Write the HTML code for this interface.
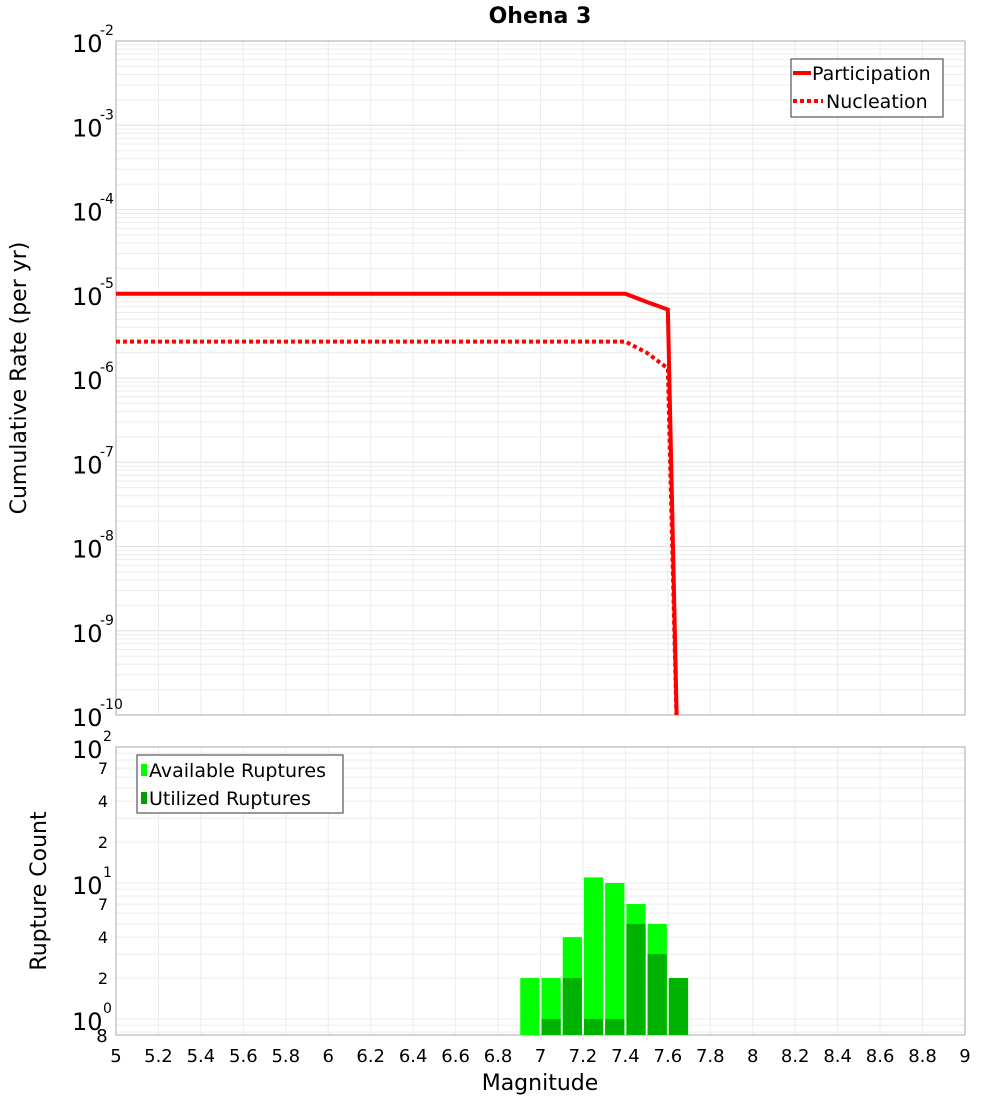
<!DOCTYPE html>
<html><head><meta charset="utf-8"><style>
body{margin:0;background:#fff;font-family:"Liberation Sans","DejaVu Sans",sans-serif}
svg text{font-family:"DejaVu Sans","Liberation Sans",sans-serif}
</style></head><body>
<svg id="c" width="1000" height="1100" xmlns="http://www.w3.org/2000/svg">
<text x="540" y="23" text-anchor="middle" font-size="22" font-weight="bold">Ohena 3</text>
<text transform="translate(26,378) rotate(-90)" text-anchor="middle" font-size="22">Cumulative Rate (per yr)</text>
<text transform="translate(46,891) rotate(-90)" text-anchor="middle" font-size="22">Rupture Count</text>
<text x="540" y="1090" text-anchor="middle" font-size="22">Magnitude</text>
<g id="g"></g>
</svg>
<script>
const mags=[5,5.1,5.2,5.3,5.4,5.5,5.6,5.7,5.8,5.9,6,6.1,6.2,6.3,6.4,6.5,6.6,6.7,6.8,6.9,7,7.1,7.2,7.3,7.4,7.5,7.6,7.65];
const participation=[1e-5,1e-5,1e-5,1e-5,1e-5,1e-5,1e-5,1e-5,1e-5,1e-5,1e-5,1e-5,1e-5,1e-5,1e-5,1e-5,1e-5,1e-5,1e-5,1e-5,1e-5,1e-5,1e-5,1e-5,1e-5,8e-6,6.5e-6,1e-11];
const nucleation=[2.7e-6,2.7e-6,2.7e-6,2.7e-6,2.7e-6,2.7e-6,2.7e-6,2.7e-6,2.7e-6,2.7e-6,2.7e-6,2.7e-6,2.7e-6,2.7e-6,2.7e-6,2.7e-6,2.7e-6,2.7e-6,2.7e-6,2.7e-6,2.7e-6,2.7e-6,2.7e-6,2.7e-6,2.7e-6,2e-6,1.3e-6,1e-11];
const binCenters=[6.95,7.05,7.15,7.25,7.35,7.45,7.55,7.65];
const available=[2,2,4,11,10,7,5,2];
const utilized=[0,1,2,1,1,5,3,2];
const xTicks=[5,5.2,5.4,5.6,5.8,6,6.2,6.4,6.6,6.8,7,7.2,7.4,7.6,7.8,8,8.2,8.4,8.6,8.8,9];
const topExps=[-2,-3,-4,-5,-6,-7,-8,-9,-10];
const botExps=[2,1,0];
const botMinor=[7,4,2];

const NS="http://www.w3.org/2000/svg",g=document.getElementById('g');
function el(t,a,txt){const e=document.createElementNS(NS,t);for(const k in a)e.setAttribute(k,a[k]);if(txt!==undefined)e.textContent=txt;g.appendChild(e);return e;}
const X0=116,X1=965;
const x=m=>X0+(m-5)/4*(X1-X0);
const T0=41,T1=715,yT=v=>T0+(-2-Math.log10(v))*(T1-T0)/8;
const B0=747,B1=1035,DEC=136,yB=v=>B0+(2-Math.log10(v))*DEC;

for(let d=-10;d<-2;d++)for(let k=1;k<10;k++){const yy=yT(k*Math.pow(10,d));
 const l=el('line',{x1:X0,x2:X1,y1:yy,y2:yy,stroke:k==1?'#e0e0e0':'#ececec','stroke-width':1});
 }
for(let d=-1;d<2;d++)for(let k=1;k<10;k++){const yy=yB(k*Math.pow(10,d));if(yy>B1||yy<B0)continue;
 const l=el('line',{x1:X0,x2:X1,y1:yy,y2:yy,stroke:'#ececec','stroke-width':1});
 }
xTicks.forEach(t=>{
 const a=el('line',{x1:x(t),x2:x(t),y1:T0,y2:T1,stroke:'#ececec'});
 
 const b=el('line',{x1:x(t),x2:x(t),y1:B0,y2:B1,stroke:'#ececec'});
 
 const tx=el('text',{x:x(t),y:1062,'font-size':18,'text-anchor':'middle'},String(t));
 
});
const f1=el('rect',{x:X0,y:T0,width:X1-X0,height:T1-T0,fill:'none',stroke:'#aaa'});

const f2=el('rect',{x:X0,y:B0,width:X1-X0,height:B1-B0,fill:'none',stroke:'#aaa'});

topExps.forEach(e=>{const yy=yT(Math.pow(10,e));
 const t=el('text',{x:72,y:yy+11,'font-size':24},'10');
 
 const s=el('text',{x:100,y:yy-6,'font-size':14},String(e));
 });
botExps.forEach(e=>{const yy=yB(Math.pow(10,e));
 const t=el('text',{x:72,y:yy+11,'font-size':24},'10');
 
 const s=el('text',{x:103,y:yy-6,'font-size':14},String(e));
 });
[1,0].forEach(d=>botMinor.forEach(k=>{const yy=yB(k*Math.pow(10,d));
 const t=el('text',{x:103,y:yy+6,'font-size':16,'text-anchor':'middle'},String(k));
 }));
const t8=el('text',{x:102,y:1042,'font-size':18,'text-anchor':'middle'},'8');

const bw=0.1*(X1-X0)/4;
binCenters.forEach((c,i)=>{
 const xl=x(c)-bw/2+1,w=bw-2;
 const ya=yB(available[i]);
 const r=el('rect',{x:xl,y:ya,width:w,height:B1-ya,fill:'#00ff00'});
 
 if(utilized[i]>0){const yu=yB(utilized[i]);
  const u=el('rect',{x:xl,y:yu,width:w,height:B1-yu,fill:'#00b200'});
  }
});
const cp=el('clipPath',{id:'cl'});const cr=document.createElementNS(NS,'rect');
cr.setAttribute('x',X0);cr.setAttribute('y',T0);cr.setAttribute('width',X1-X0);cr.setAttribute('height',T1-T0);cp.appendChild(cr);
function pts(arr){return mags.map((m,i)=>x(m)+','+yT(arr[i])).join(' ');}
const pn=el('polyline',{points:pts(nucleation),fill:'none',stroke:'#ff0000','stroke-width':4,'stroke-dasharray':'4,3','clip-path':'url(#cl)'});

const pp=el('polyline',{points:pts(participation),fill:'none',stroke:'#ff0000','stroke-width':4,'clip-path':'url(#cl)'});

const lg=el('rect',{x:791,y:59,width:152,height:58,fill:'#fff',stroke:'#333'});

const l1=el('line',{x1:793,x2:811,y1:73,y2:73,stroke:'#f00','stroke-width':4});

const t1=el('text',{x:812,y:80,'font-size':19},'Participation');

const l2=el('line',{x1:793,x2:823,y1:101,y2:101,stroke:'#f00','stroke-width':4,'stroke-dasharray':'4,3'});

const t2=el('text',{x:826,y:108,'font-size':19},'Nucleation');

const lb=el('rect',{x:137,y:755,width:206,height:58,fill:'#fff',stroke:'#333'});

const s1=el('rect',{x:141,y:764,width:6,height:12,fill:'#00ff00'});

const b1=el('text',{x:149,y:777,'font-size':19},'Available Ruptures');

const s2=el('rect',{x:141,y:792,width:6,height:12,fill:'#00a000'});

const b2=el('text',{x:149,y:805,'font-size':19},'Utilized Ruptures');

</script>
</body></html>
